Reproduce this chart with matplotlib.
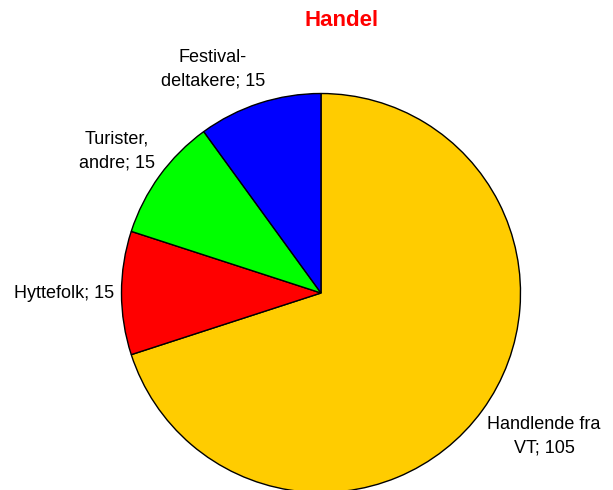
import matplotlib
matplotlib.use("Agg")
import matplotlib.pyplot as plt

categories = ["Handlende fra\nVT", "Hyttefolk", "Turister,\nandre", "Festival-\ndeltakere"]
values = [105, 15, 15, 15]
colors = ["#FFCC00", "#FF0000", "#00FF00", "#0000FF"]
title = "Handel"

W, H = 613, 490
fig = plt.figure(figsize=(W / 100, H / 100), dpi=100)
fig.patch.set_facecolor("white")

cx, cy, r = 321, 293, 199.5
ax = fig.add_axes([(cx - r) / W, (H - cy - r) / H, 2 * r / W, 2 * r / H])
ax.pie(values, colors=colors, startangle=90, counterclock=False,
       wedgeprops=dict(edgecolor="black", linewidth=1.0), radius=1.0)
ax.set_xlim(-1, 1)
ax.set_ylim(-1, 1)
ax.set_aspect("equal")
ax.axis("off")

font = "Liberation Sans"
fs = 13
labels = [f"{c}; {v}" for c, v in zip(categories, values)]
positions = [(544, 436, "center"), (114, 293, "right"), (117, 151, "center"), (213, 69, "center")]
for lab, (px, py, ha) in zip(labels, positions):
    fig.text(px / W, 1 - py / H, lab, ha=ha, va="center", fontsize=fs,
             family=font, color="black", multialignment="center", linespacing=1.5)

fig.text(342 / W, 1 - 20 / H, title, ha="center", va="center", fontsize=16,
         fontweight="bold", color="#FF0000", family=font)

fig.savefig("out.png", dpi=100)
